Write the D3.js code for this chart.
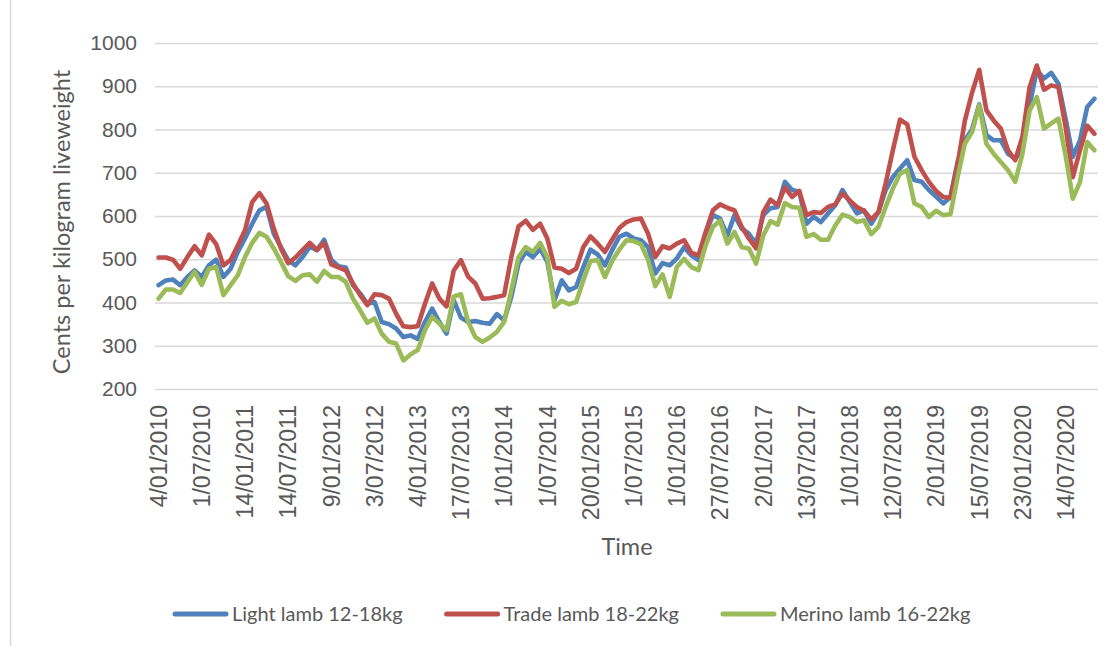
<!DOCTYPE html>
<html>
<head>
<meta charset="utf-8">
<script src="https://cdn.jsdelivr.net/npm/d3@7"></script>
<style>
  html, body { margin: 0; padding: 0; background: #ffffff; }
  svg { display: block; font-family: Lato, "Open Sans", sans-serif; }
</style>
</head>
<body>
<svg id="chart" width="1112" height="646"></svg>
<script>
// Category labels shown every sixth month on the time axis
const tickLabels = [
  "4/01/2010", "1/07/2010", "14/01/2011", "14/07/2011", "9/01/2012", "3/07/2012",
  "4/01/2013", "17/07/2013", "1/01/2014", "1/07/2014", "20/01/2015", "1/07/2015",
  "1/01/2016", "27/07/2016", "2/01/2017", "13/07/2017", "1/01/2018", "12/07/2018",
  "2/01/2019", "15/07/2019", "23/01/2020", "14/07/2020"
];
const labelEvery = 6;

// Monthly saleyard indicators, cents per kilogram liveweight (Jan 2010 - Nov 2020)
const lightLamb = [
  440, 451, 453, 440, 459, 474, 459, 486, 499, 459, 478, 517, 548, 582, 613, 621, 559, 528, 498, 486,
  505, 529, 521, 545, 498, 484, 481, 440, 421, 397, 401, 355, 350, 340, 320, 324, 316, 355, 386, 355,
  328, 405, 365, 355, 357, 353, 351, 373, 359, 413, 490, 517, 505, 525, 494, 405, 451, 428, 436, 482,
  522, 511, 486, 521, 552, 559, 548, 544, 528, 467, 491, 486, 502, 528, 509, 498, 559, 602, 594, 555,
  602, 571, 559, 536, 602, 618, 621, 679, 660, 656, 582, 598, 586, 606, 625, 660, 633, 606, 613, 582,
  609, 660, 690, 710, 729, 683, 679, 660, 645, 629, 644, 725, 775, 800, 858, 787, 775, 775, 744, 733,
  752, 856, 937, 918, 931, 906, 825, 737, 775, 852, 871
];
const tradeLamb = [
  504, 504, 499, 478, 505, 530, 509, 557, 535, 486, 498, 532, 567, 632, 653, 629, 571, 525, 491, 504,
  521, 538, 521, 538, 488, 481, 474, 444, 417, 394, 419, 417, 409, 374, 345, 343, 345, 397, 444, 409,
  391, 474, 498, 460, 444, 409, 410, 413, 417, 505, 576, 589, 568, 582, 548, 481, 478, 468, 478, 528,
  553, 536, 517, 545, 572, 586, 592, 594, 559, 505, 530, 525, 536, 544, 515, 509, 563, 613, 627, 619,
  613, 575, 548, 525, 609, 638, 625, 666, 644, 658, 602, 609, 607, 621, 627, 652, 636, 621, 612, 592,
  609, 675, 752, 823, 812, 737, 706, 679, 658, 644, 642, 720, 820, 885, 938, 844, 821, 802, 752, 729,
  783, 898, 948, 892, 902, 898, 806, 690, 752, 809, 790
];
const merinoLamb = [
  409, 430, 430, 422, 447, 471, 441, 478, 482, 417, 440, 463, 505, 538, 561, 552, 525, 494, 461, 450,
  463, 465, 448, 473, 459, 459, 448, 409, 382, 353, 363, 328, 309, 305, 266, 280, 290, 336, 367, 351,
  336, 414, 419, 355, 320, 309, 319, 332, 355, 428, 505, 528, 517, 538, 505, 390, 404, 396, 401, 451,
  496, 498, 459, 496, 522, 544, 542, 535, 498, 438, 465, 413, 482, 501, 482, 475, 532, 575, 589, 536,
  563, 528, 525, 490, 555, 588, 580, 630, 621, 619, 552, 558, 545, 545, 578, 603, 598, 586, 590, 558,
  575, 621, 663, 698, 706, 629, 621, 598, 612, 602, 604, 690, 767, 794, 856, 767, 744, 725, 706, 679,
  744, 844, 875, 802, 814, 825, 740, 640, 679, 771, 752
];

const yTicks = [200, 300, 400, 500, 600, 700, 800, 900, 1000];
const seriesNames = ["Light lamb 12-18kg", "Trade lamb 18-22kg", "Merino lamb 16-22kg"];
const seriesColors = ["#4F81BD", "#C0504D", "#9BBB59"];
const seriesData = [lightLamb, tradeLamb, merinoLamb];

const textColor = "#595959";
const gridColor = "#d9d9d9";

const svg = d3.select("#chart");
const plot = { left: 155, right: 1098, top: 43, bottom: 389 };

// Outer chart frame edge
svg.append("line")
  .attr("x1", 10.5).attr("x2", 10.5)
  .attr("y1", 0).attr("y2", 646)
  .attr("stroke", gridColor).attr("stroke-width", 1.5);

const x = d3.scaleBand()
  .domain(d3.range(lightLamb.length))
  .range([plot.left, plot.right]);
const xc = i => x(i) + x.bandwidth() / 2;

const y = d3.scaleLinear()
  .domain([200, 1000])
  .range([plot.bottom, plot.top]);

// Horizontal gridlines with value labels
const yAxis = d3.axisLeft(y)
  .tickValues(yTicks)
  .tickSize(-(plot.right - plot.left))
  .tickPadding(18)
  .tickFormat(d3.format("d"));
const gy = svg.append("g")
  .attr("transform", `translate(${plot.left},0)`)
  .call(yAxis);
gy.select(".domain").remove();
gy.selectAll(".tick line").attr("stroke", gridColor).attr("stroke-width", 1.4);
gy.selectAll(".tick text")
  .attr("fill", textColor)
  .style("font-size", "21px");

// Category axis with rotated date labels
const xAxis = d3.axisBottom(x)
  .tickValues(d3.range(0, lightLamb.length, labelEvery))
  .tickSize(0)
  .tickFormat((d, i) => tickLabels[i]);
const gx = svg.append("g")
  .attr("transform", `translate(0,${plot.bottom})`)
  .call(xAxis);
gx.select(".domain").remove();
gx.selectAll(".tick text")
  .attr("fill", textColor)
  .style("font-size", "23px")
  .attr("text-anchor", "end")
  .attr("transform", "rotate(-90)")
  .attr("x", -16)
  .attr("y", 0)
  .attr("dy", "0.36em");

// Series lines
const line = d3.line()
  .x((d, i) => xc(i))
  .y(d => y(d));

svg.append("g")
  .selectAll("path")
  .data(seriesData)
  .join("path")
  .attr("d", d => line(d))
  .attr("fill", "none")
  .attr("stroke", (d, i) => seriesColors[i])
  .attr("stroke-width", 4.6)
  .attr("stroke-linejoin", "round")
  .attr("stroke-linecap", "round");

// Axis titles
svg.append("text")
  .attr("transform", `translate(70,${(plot.top + plot.bottom) / 2 + 6}) rotate(-90)`)
  .attr("text-anchor", "middle")
  .attr("fill", textColor)
  .style("font-size", "23.5px")
  .text("Cents per kilogram liveweight");

svg.append("text")
  .attr("x", 627)
  .attr("y", 555)
  .attr("text-anchor", "middle")
  .attr("fill", textColor)
  .style("font-size", "23.5px")
  .text("Time");

// Legend
const legend = svg.append("g").attr("transform", "translate(173,614)");
let lx = 0;
seriesNames.forEach((name, i) => {
  const item = legend.append("g").attr("transform", `translate(${lx},0)`);
  item.append("line")
    .attr("x1", 2).attr("x2", 53)
    .attr("y1", 0).attr("y2", 0)
    .attr("stroke", seriesColors[i])
    .attr("stroke-width", 5)
    .attr("stroke-linecap", "round");
  const t = item.append("text")
    .attr("x", 59)
    .attr("y", 0)
    .attr("dy", "0.35em")
    .attr("fill", textColor)
    .style("font-size", "20px")
    .text(name);
  lx += 59 + t.node().getComputedTextLength() + 42;
});
</script>
</body>
</html>
